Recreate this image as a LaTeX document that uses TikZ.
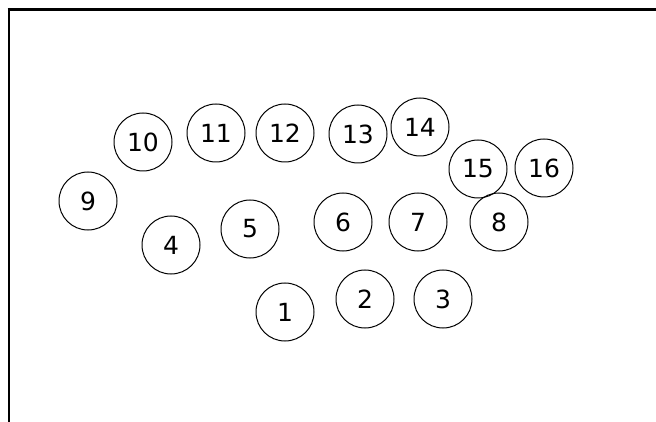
\documentclass[tikz,border=0pt]{standalone}
\usepackage{fontspec}
\setmainfont{DejaVu Sans}
\tikzset{
  seat/.style={draw, circle, line width=1pt, minimum size=58pt, inner sep=0pt,
    font=\fontsize{25}{25}\selectfont},
}
\begin{document}
\begin{tikzpicture}[x=1pt, y=-1pt]
  \useasboundingbox (0,0) rectangle (656,422);
  % Rahmen: nur obere und linke Kante
  \draw[line width=3.5pt] (7.5,9.75) -- (656,9.75);
  \draw[line width=2.5pt] (9,8) -- (9,422);
  % untere Reihe
  \foreach \n/\x/\y in {1/285/312, 2/365/299, 3/443/299}{
    \node[seat] (s\n) at (\x,\y) {\n};
  }
  % mittlere Reihe
  \foreach \n/\x/\y in {4/171/245, 5/250/229, 6/343/222, 7/418/222, 8/499/222}{
    \node[seat] (s\n) at (\x,\y) {\n};
  }
  % obere Reihe (Bogen)
  \foreach \n/\x/\y in {9/88/201, 10/143/142, 11/216/133, 12/285/133,
                        13/358/134, 14/420/127, 15/478/169, 16/544/168}{
    \node[seat] (s\n) at (\x,\y) {\n};
  }
\end{tikzpicture}
\end{document}
